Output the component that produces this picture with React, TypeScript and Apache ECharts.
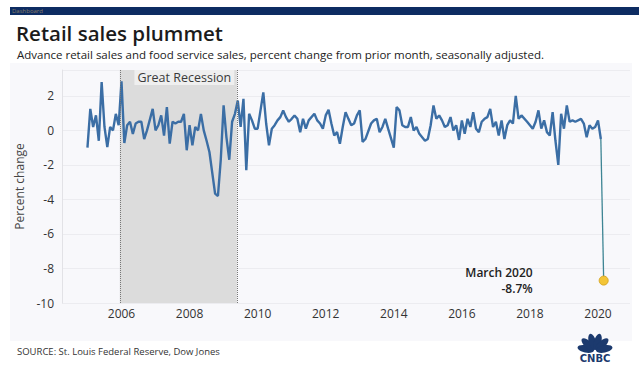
import React, { useEffect, useRef } from "react";
import * as echarts from "echarts";

// Monthly advance retail & food service sales, % change from prior month
const months: string[] = [
  "2005-01","2005-02","2005-03","2005-04","2005-05","2005-06","2005-07","2005-08","2005-09","2005-10","2005-11","2005-12",
  "2006-01","2006-02","2006-03","2006-04","2006-05","2006-06","2006-07","2006-08","2006-09","2006-10","2006-12",
  "2007-01","2007-02","2007-03","2007-04","2007-05","2007-06","2007-07","2007-08","2007-09","2007-10","2007-11","2007-12",
  "2008-01","2008-02","2008-03","2008-04","2008-05","2008-06","2008-07","2008-08","2008-10","2008-11","2008-12",
  "2009-01","2009-02","2009-03","2009-04","2009-05","2009-06","2009-07","2009-08","2009-09","2009-10","2009-11","2009-12",
  "2010-01","2010-03","2010-04","2010-05","2010-06","2010-07","2010-08","2010-09","2010-10","2010-11","2010-12",
  "2011-01","2011-02","2011-03","2011-04","2011-05","2011-06","2011-07","2011-09","2011-10","2011-11","2011-12",
  "2012-01","2012-02","2012-03","2012-04","2012-05","2012-06","2012-07","2012-08","2012-09","2012-10","2012-11","2012-12",
  "2013-01","2013-02","2013-03","2013-05","2013-06","2013-07","2013-08","2013-09","2013-10","2013-11",
  "2014-01","2014-02","2014-03","2014-04","2014-05","2014-06","2014-07","2014-08","2014-09","2014-10","2014-12",
  "2015-01","2015-02","2015-03","2015-04","2015-05","2015-06","2015-07","2015-08","2015-09","2015-10","2015-11","2015-12",
  "2016-01","2016-02","2016-03","2016-04","2016-05","2016-06","2016-07","2016-08","2016-09","2016-10","2016-11","2016-12",
  "2017-01","2017-02","2017-03","2017-04","2017-05","2017-06","2017-07","2017-08","2017-09","2017-10","2017-12",
  "2018-01","2018-02","2018-03","2018-04","2018-05","2018-06","2018-07","2018-08","2018-09","2018-10","2018-11","2018-12",
  "2019-01","2019-02","2019-03","2019-04","2019-05","2019-07","2019-08","2019-09","2019-10","2019-11","2019-12",
  "2020-01","2020-02",
];
const values: number[] = [
  -1.0, 1.25, 0.2, 0.87, -0.6, 2.8, 0.2, -0.96, 0.2, 0.0, 0.96, 0.3,
  2.85, -0.73, 0.3, 0.5, -0.2, 0.4, 0.5, 0.5, -0.5, 0.0, 1.25,
  0.0, 0.3, 0.87, -0.3, 1.35, -0.77, 0.5, 0.4, 0.5, 0.5, 0.96, -1.15,
  0.3, -0.87, 0.2, 0.0, 0.96, 0.0, -0.6, -1.25, -3.66, -3.8, -1.7,
  1.45, -0.4, -1.7, 0.5, 0.96, 1.73, 0.2, 1.83, -2.3, 0.96, 0.58, 0.1,
  0.1, 2.2, 0.4, -0.87, 0.1, 0.3, 0.58, 0.77, 1.15, 0.77, 0.5,
  0.67, 0.87, 0.67, -0.1, 0.67, 0.1, 0.58, 0.96, 0.58, 0.4, 0.1,
  0.87, 1.2, 0.4, -0.3, -0.1, -0.77, 0.2, 1.06, 0.67, 0.3, 0.4, 0.87,
  1.16, -0.67, -0.5, 0.4, 0.58, 0.67, -0.1, 0.2, 0.67, 0.1,
  -1.0, 1.35, 1.16, 0.3, 0.2, 0.2, 0.77, 0.0, 0.2, -0.2, -0.6,
  -0.5, 0.3, 1.45, 0.67, 0.87, 0.58, 0.2, 0.3, 0.77, 0.0, 0.3, -0.55,
  0.58, -0.2, 0.67, 0.2, 1.06, 0.1, -0.1, 0.5, 0.67, 0.77, 1.25, 0.2,
  0.5, -0.3, 0.58, -0.5, 0.3, 0.58, 0.4, 2.0, 0.67, 0.87, 0.5,
  0.3, 0.1, 0.5, 1.16, 0.1, 0.58, -0.1, -0.3, 1.06, -0.6, -2.0, 0.96,
  0.1, 1.45, 0.5, 0.58, 0.5, 0.67, 0.4, -0.4, 0.3, 0.1, 0.2,
  0.58, -0.5,
];
const finalMonth = "2020-03";
const finalValue = -8.7;

const yearTicks: number[] = [2006, 2008, 2010, 2012, 2014, 2016, 2018, 2020];
const recession: [number, number] = [2005.95, 2009.39];

const toYear = (d: string) => {
  const [y, m] = d.split("-").map(Number);
  return y + (m - 1) / 12;
};

const FONT = "'Open Sans', 'Noto Sans', sans-serif";

export default function App() {
  const ref = useRef<HTMLDivElement>(null);
  useEffect(() => {
    if (!ref.current) return;
    const chart = echarts.init(ref.current, undefined, { renderer: "svg" });
    const mainData = months.map((d, i) => [toYear(d), values[i]]);
    const lastMain = mainData[mainData.length - 1];
    const endData = [
      { value: lastMain, symbol: "none" },
      {
        value: [toYear(finalMonth), finalValue],
        symbol: "circle",
        symbolSize: 9,
        itemStyle: { color: "#f3c537", borderColor: "#d8a722", borderWidth: 1 },
        label: {
          show: true,
          position: "left",
          distance: 66,
          align: "right",
          formatter: "{a|March 2020}\n{a|" + finalValue + "%}",
          rich: {
            a: {
              fontFamily: FONT,
              fontSize: 12,
              fontWeight: 600,
              lineHeight: 16,
              color: "#222",
              align: "right",
            },
          },
        },
      },
    ];

    const petals = [-78, -47, -16, 16, 47, 78].map((deg) => ({
      type: "ellipse",
      x: 595,
      y: 351,
      rotation: (-deg * Math.PI) / 180,
      shape: { cx: 0, cy: -9.5, rx: 3.6, ry: 8.3 },
      style: { fill: "#1c3a6e" },
    }));

    chart.setOption({
      animation: false,
      backgroundColor: "#ffffff",
      graphic: [
        { type: "rect", z: -10, shape: { x: 10, y: 63, width: 622, height: 278 }, style: { fill: "#f8f8fb" } },
        { type: "rect", shape: { x: 10, y: 7, width: 629, height: 8 }, style: { fill: "#0d2c62" } },
        { type: "text", x: 12, y: 8, style: { text: "Dashboard", fill: "#8a7f6a", font: "6px " + FONT } },
        {
          type: "text", x: 16, y: 22,
          style: { text: "Retail sales plummet", fill: "#1b1b1b", font: "600 20.5px " + FONT, lineHeight: 21 },
        },
        {
          type: "text", x: 17, y: 48.5,
          style: {
            text: "Advance retail sales and food service sales, percent change from prior month, seasonally adjusted.",
            fill: "#222", font: "11.5px " + FONT, lineHeight: 12,
          },
        },
        {
          type: "text", x: 17, y: 346,
          style: { text: "SOURCE: St. Louis Federal Reserve, Dow Jones", fill: "#333", font: "9.5px " + FONT },
        },
        ...petals,
        {
          type: "text", x: 595, y: 353,
          style: { text: "CNBC", fill: "#1c3a6e", font: "bold 10px 'DejaVu Sans', sans-serif", align: "center" },
        },
      ],
      grid: { left: 62, right: 9, top: 70, bottom: 62 },
      xAxis: {
        type: "value",
        min: 2004.252,
        max: 2020.94,
        axisLine: { show: false },
        axisTick: { show: false },
        splitLine: { show: false },
        axisLabel: {
          customValues: yearTicks,
          formatter: (v: number) => String(Math.round(v)),
          margin: 4,
          fontFamily: FONT,
          fontSize: 12,
          color: "#333",
        },
      },
      yAxis: {
        type: "value",
        min: -10,
        max: 3.5,
        interval: 2,
        name: "Percent change",
        nameLocation: "middle",
        nameGap: 37,
        nameTextStyle: { fontFamily: FONT, fontSize: 12, color: "#444" },
        axisLine: { show: true, lineStyle: { color: "#e2e2e6" } },
        axisTick: { show: false },
        splitLine: { show: true, lineStyle: { color: "#ececf0" } },
        axisLabel: {
          formatter: (v: number) => (Number.isInteger(v) ? String(v) : ""),
          margin: 8,
          fontFamily: FONT,
          fontSize: 12,
          color: "#333",
        },
      },
      series: [
        {
          type: "line",
          data: mainData,
          symbol: "none",
          lineStyle: { color: "#3b6ea5", width: 2.4 },
          z: 3,
          markArea: {
            silent: true,
            itemStyle: { color: "#dcdcdc" },
            label: {
              show: true,
              position: "insideTop",
              distance: 0,
              offset: [6, 0],
              fontFamily: FONT,
              fontSize: 12.5,
              fontWeight: 500,
              color: "#3a3a3a",
              backgroundColor: "#efefef",
              padding: [1, 3, 1, 3],
            },
            data: [[{ xAxis: recession[0], name: "Great Recession" }, { xAxis: recession[1] }]],
          },
          markLine: {
            silent: true,
            symbol: "none",
            label: { show: false },
            lineStyle: { color: "#777", type: "dotted", width: 1 },
            data: [{ xAxis: recession[0] }, { xAxis: recession[1] }],
          },
        },
        {
          type: "line",
          data: endData,
          lineStyle: { color: "#3e8594", width: 1.3 },
          z: 4,
        },
      ],
    });
    return () => chart.dispose();
  }, []);
  return (
    <div
      ref={ref}
      style={{ position: "fixed", left: 0, top: 0, width: 639, height: 365 }}
    />
  );
}
